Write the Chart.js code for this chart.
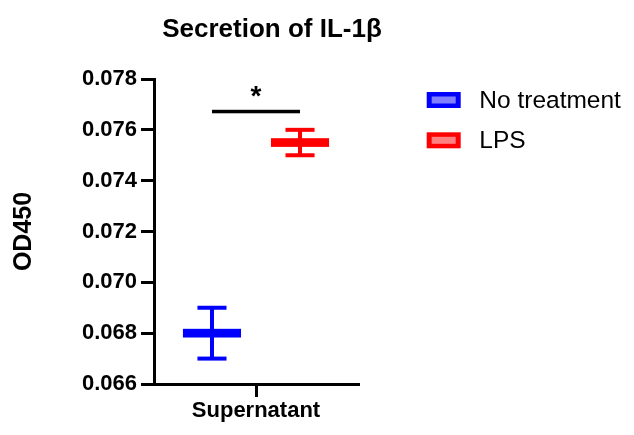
<!DOCTYPE html>
<html>
<head>
<meta charset="utf-8">
<script src="https://cdn.jsdelivr.net/npm/chart.js@4"></script>
<style>
  html, body { margin: 0; padding: 0; background: #fff; }
  #wrap { width: 634px; height: 435px; }
</style>
</head>
<body>
<div id="wrap"><canvas id="c" width="634" height="435"></canvas></div>
<script>
const chartTitle = 'Secretion of IL-1β';
const yAxisTitle = 'OD450';
const categories = ['Supernatant'];
const seriesNames = ['No treatment', 'LPS'];
const seriesMeans = [0.068, 0.0755];
const seriesErrors = [0.001, 0.0005];
const seriesColors = ['#0000FF', '#FF0000'];
const legendFills = ['#8080FF', '#FF8080'];
const yTickValues = [0.066, 0.068, 0.070, 0.072, 0.074, 0.076, 0.078];
const yMin = 0.066, yMax = 0.078;
const significance = { from: 0, to: 1, value: 0.07672, label: '*' };

const FONT = '"Liberation Sans", Arial, sans-serif';

const drawPlugin = {
  id: 'drawMarks',
  afterDatasetsDraw(chart) {
    const ctx = chart.ctx;
    const y = chart.scales.y;
    const xs = [];
    chart.data.datasets.forEach((ds, i) => {
      const meta = chart.getDatasetMeta(i);
      const el = meta.data[0];
      const x = el.x, w = el.width;
      xs.push(x);
      const m = seriesMeans[i], e = seriesErrors[i];
      const yM = y.getPixelForValue(m);
      const yT = y.getPixelForValue(m + e);
      const yB = y.getPixelForValue(m - e);
      ctx.save();
      ctx.fillStyle = seriesColors[i];
      ctx.fillRect(x - 2, yT, 4, yB - yT);
      ctx.fillRect(x - w / 4, yT - 2, w / 2, 4);
      ctx.fillRect(x - w / 4, yB - 2, w / 2, 4);
      ctx.fillRect(x - w / 2, yM - 4.35, w, 8.7);
      ctx.restore();
    });
    // significance bar
    const sy = y.getPixelForValue(significance.value);
    const x1 = xs[significance.from], x2 = xs[significance.to];
    ctx.save();
    ctx.fillStyle = '#000';
    ctx.fillRect(x1, sy - 1.75, x2 - x1, 3.5);
    ctx.font = 'bold 28px ' + FONT;
    ctx.textAlign = 'center';
    ctx.textBaseline = 'alphabetic';
    ctx.fillText(significance.label, (x1 + x2) / 2, sy - 7);
    ctx.restore();
  },
  afterDraw(chart) {
    const ctx = chart.ctx;
    ctx.save();
    // title
    ctx.fillStyle = '#000';
    ctx.font = 'bold 26px ' + FONT;
    ctx.textAlign = 'center';
    ctx.textBaseline = 'alphabetic';
    ctx.fillText(chartTitle, 272, 37.3);
    // legend
    seriesNames.forEach((name, i) => {
      const cy = 100 + i * 40.3;
      ctx.fillStyle = seriesColors[i];
      ctx.fillRect(426.7, cy - 8, 34, 16);
      ctx.fillStyle = legendFills[i];
      ctx.fillRect(431.7, cy - 3.5, 24, 7);
      ctx.fillStyle = '#000';
      ctx.font = '24.5px ' + FONT;
      ctx.textAlign = 'left';
      ctx.textBaseline = 'alphabetic';
      ctx.fillText(name, 479.3, cy + 7.5);
    });
    ctx.restore();
  }
};

new Chart(document.getElementById('c'), {
  type: 'bar',
  data: {
    labels: categories,
    datasets: seriesNames.map((n, i) => ({
      label: n,
      data: [seriesMeans[i]],
      backgroundColor: 'rgba(0,0,0,0)',
      borderWidth: 0,
      categoryPercentage: 0.863,
      barPercentage: 0.66
    }))
  },
  options: {
    responsive: false,
    animation: false,
    events: [],
    layout: { padding: { left: 0, top: 79, right: 276, bottom: 0 } },
    plugins: { legend: { display: false }, title: { display: false }, tooltip: { enabled: false } },
    scales: {
      x: {
        type: 'category',
        offset: true,
        grid: { display: true, drawOnChartArea: false, offset: false, color: '#000', lineWidth: 3, tickLength: 13 },
        border: { display: true, color: '#000', width: 3 },
        ticks: { color: '#000', font: { family: FONT, size: 22, weight: 'bold' }, padding: 1, maxRotation: 0 },
        afterFit(scale) { scale.height = 51; }
      },
      y: {
        type: 'linear',
        min: yMin, max: yMax,
        afterBuildTicks(scale) { scale.ticks = yTickValues.map(v => ({ value: v })); },
        grid: { display: true, drawOnChartArea: false, color: '#000', lineWidth: 3, tickLength: 13 },
        border: { display: true, color: '#000', width: 3 },
        ticks: { color: '#000', font: { family: FONT, size: 22, weight: 'bold' }, padding: 4,
                 callback: (v) => Number(v).toFixed(3) },
        title: { display: true, text: yAxisTitle, color: '#000', font: { family: FONT, size: 25, weight: 'bold' }, padding: { top: 9, bottom: 0 } },
        afterFit(scale) { scale.width = 154; }
      }
    }
  },
  plugins: [drawPlugin]
});
</script>
</body>
</html>
